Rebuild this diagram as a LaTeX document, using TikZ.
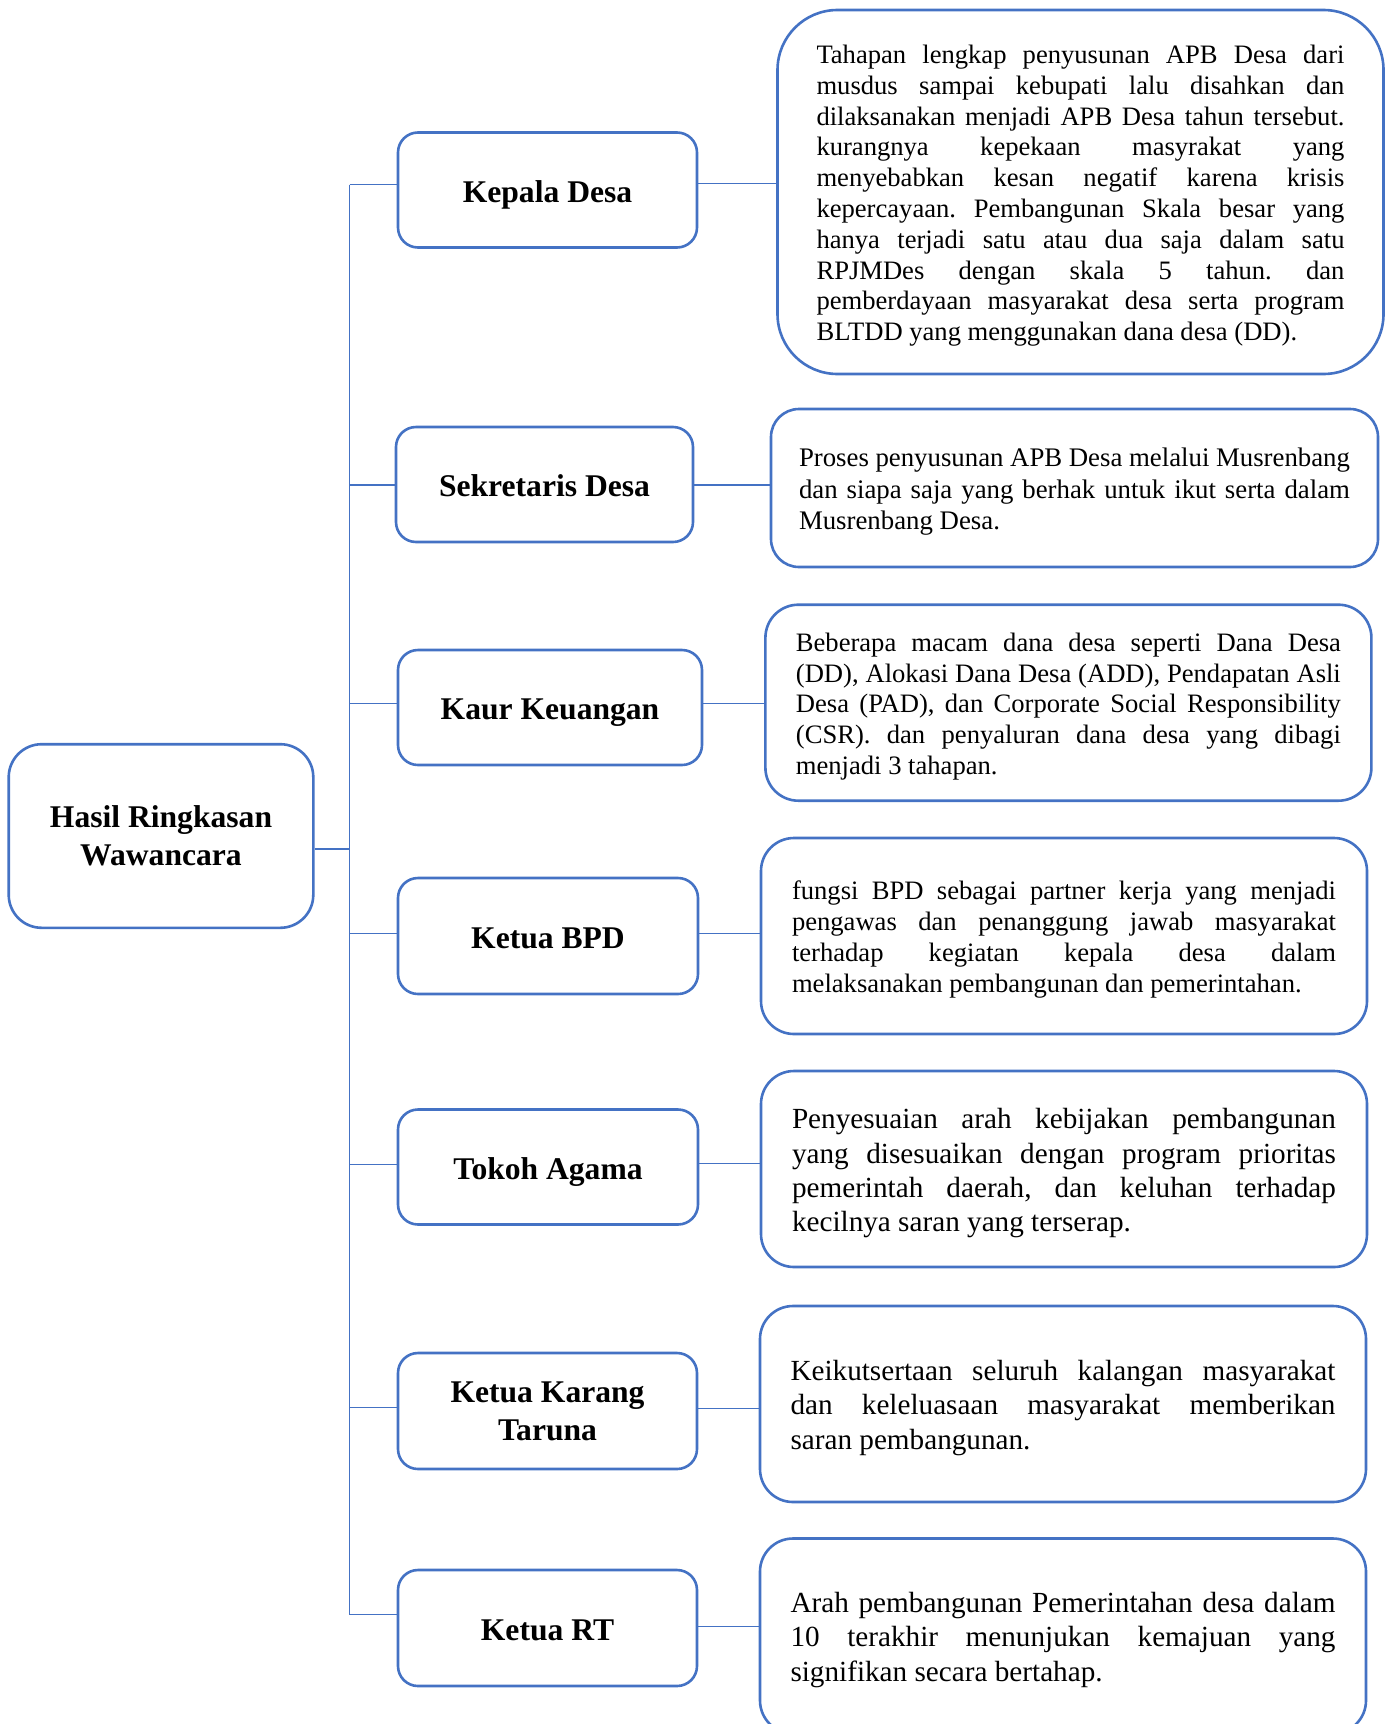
\documentclass[tikz,border=0pt]{standalone}
\usepackage{fontspec}
\setmainfont{Liberation Serif}
\definecolor{bl}{HTML}{4472C4}
\tolerance=10000 \pretolerance=-1 \hyphenpenalty=10000 \exhyphenpenalty=10000 \frenchspacing \parindent=0pt
\newcommand{\dn}[1][7.6pt]{\rule{0pt}{\dimexpr 0.69em+#1\relax}}
\tikzset{
  rbox/.style={draw=bl, line width=2.6pt, rounded corners=#1, fill=white, inner xsep=0pt, inner ysep=0pt, align=justify, font=\fontsize{26.6}{30.8}\selectfont},
  rbox/.default=33pt,
  bigtxt/.style={font=\fontsize{29.2}{34.3}\selectfont},
  mbox/.style={draw=bl, line width=2.6pt, rounded corners=20pt, fill=white, align=center, inner sep=0pt, minimum height=115pt, font=\fontsize{31.6}{38}\selectfont\bfseries},
  oneline/.style={text height=24pt, text depth=0pt},
  conn/.style={draw=bl, line width=1.3pt},
}
\begin{document}
\begin{tikzpicture}[x=1pt,y=-1pt]
\useasboundingbox (0,0) rectangle (1390,1724);
\clip (0,0) rectangle (1390,1724);
\fill[white] (0,0) rectangle (1390,1724);

% trunk coordinates
\coordinate (top) at (349.7,184.7);
\coordinate (bot) at (349.7,1614.5);
\coordinate (yL) at (0,849);
\coordinate (la1) at (349.7,184.7);
\coordinate (la2) at (349.7,485);
\coordinate (la3) at (349.7,703.8);
\coordinate (la4) at (349.7,933.6);
\coordinate (la5) at (349.7,1164.6);
\coordinate (la6) at (349.7,1407.6);
\coordinate (la7) at (349.7,1614.5);
\coordinate (ra1) at (0,183.6);
\coordinate (ra2) at (0,485);
\coordinate (ra3) at (0,703.8);
\coordinate (ra4) at (0,933.6);
\coordinate (ra5) at (0,1163.5);
\coordinate (ra6) at (0,1408.7);
\coordinate (ra7) at (0,1626.5);

% left node
\node[mbox, rounded corners=33pt, minimum width=304.6pt, minimum height=183.6pt] (L) at (161,836) {Hasil Ringkasan\\Wawancara};

% middle nodes
\node[mbox, oneline, minimum width=299pt] (M1) at (547.5,190) {Kepala Desa};
\node[mbox, oneline, minimum width=297pt] (M2) at (544.5,484.5) {Sekretaris Desa};
\node[mbox, oneline, minimum width=304pt] (M3) at (550,707.5) {Kaur Keuangan};
\node[mbox, oneline, minimum width=300pt, minimum height=116pt] (M4) at (548,936) {Ketua BPD};
\node[mbox, oneline, minimum width=300pt] (M5) at (548,1167) {Tokoh Agama};
\node[mbox, minimum width=299pt, minimum height=116pt] (M6) at (547.5,1411) {Ketua Karang\\Taruna};
\node[mbox, oneline, minimum width=299pt, minimum height=116pt] (M7) at (547.5,1628) {Ketua RT};

% right boxes
\node[rbox=60pt, text width=528pt, minimum width=606pt, minimum height=364pt] (R1) at (1080.5,192) {\dn Tahapan lengkap penyusunan APB Desa dari\linebreak musdus sampai kebupati lalu disahkan dan\linebreak dilaksanakan menjadi APB Desa tahun tersebut.\linebreak kurangnya kepekaan masyrakat yang\linebreak menyebabkan kesan negatif karena krisis\linebreak kepercayaan. Pembangunan Skala besar yang\linebreak hanya terjadi satu atau dua saja dalam satu\linebreak RPJMDes dengan skala 5 tahun. dan\linebreak pemberdayaan masyarakat desa serta program\linebreak BLTDD yang menggunakan dana desa (DD).};
\node[rbox=28pt, text width=551pt, minimum width=607pt, minimum height=158pt, font=\fontsize{26.8}{31.3}\selectfont] (R2) at (1074.5,488) {\dn Proses penyusunan APB Desa melalui Musrenbang\linebreak dan siapa saja yang berhak untuk ikut serta dalam\linebreak Musrenbang Desa.};
\node[rbox, text width=545pt, minimum width=606pt, minimum height=196pt] (R3) at (1068.4,702.7) {\dn Beberapa macam dana desa seperti Dana Desa\linebreak (DD), Alokasi Dana Desa (ADD), Pendapatan Asli\linebreak Desa (PAD), dan Corporate Social Responsibility\linebreak (CSR). dan penyaluran dana desa yang dibagi\linebreak menjadi 3 tahapan.};
\node[rbox, text width=544pt, minimum width=606pt, minimum height=196pt] (R4) at (1064,936) {\dn fungsi BPD sebagai partner kerja yang menjadi\linebreak pengawas dan penanggung jawab masyarakat\linebreak terhadap kegiatan kepala desa dalam\linebreak melaksanakan pembangunan dan pemerintahan.};
\node[rbox, bigtxt, text width=544pt, minimum width=606pt, minimum height=196pt] (R5) at (1064,1169) {\dn[9pt]Penyesuaian arah kebijakan pembangunan\linebreak yang disesuaikan dengan program prioritas\linebreak pemerintah daerah, dan keluhan terhadap\linebreak kecilnya saran yang terserap.};
\node[rbox, bigtxt, text width=545pt, minimum width=606pt, minimum height=196pt] (R6) at (1063,1404) {\dn Keikutsertaan seluruh kalangan masyarakat\linebreak dan keleluasaan masyarakat memberikan\linebreak saran pembangunan.};
\node[rbox, bigtxt, text width=545pt, minimum width=606pt, minimum height=195pt] (R7) at (1063,1636) {\dn Arah pembangunan Pemerintahan desa dalam\linebreak 10 terakhir menunjukan kemajuan yang\linebreak signifikan secara bertahap.};

% connectors
\draw[conn] (top) -- (bot);
\draw[conn] (L.east |- yL) -- (top |- yL);
\foreach \i in {1,...,7} {
  \draw[conn] (la\i) -- (M\i.west |- la\i);
  \draw[conn] (M\i.east |- ra\i) -- (R\i.west |- ra\i);
}
\end{tikzpicture}
\end{document}
